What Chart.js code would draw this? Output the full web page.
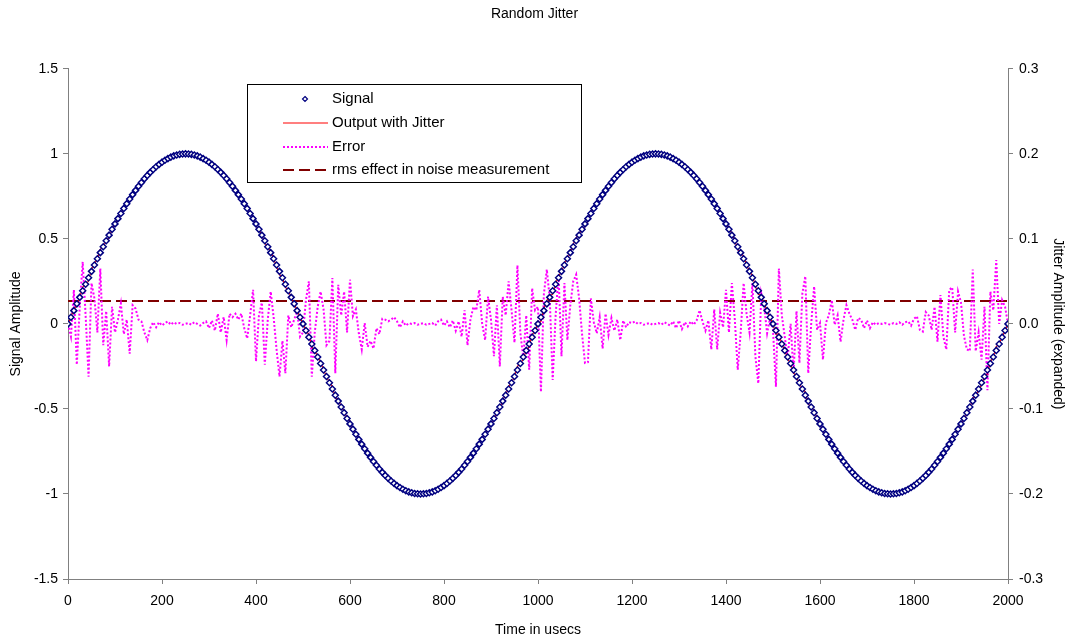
<!DOCTYPE html>
<html><head><meta charset="utf-8">
<script src="https://cdn.jsdelivr.net/npm/chart.js@4/dist/chart.umd.min.js"></script>
<style>html,body{margin:0;padding:0;background:#fff;}canvas{display:block;}</style>
</head><body>
<canvas id="c" width="1069" height="639"></canvas>
<script>
const chartTitle = 'Random Jitter';
const xTitle = 'Time in usecs';
const yLeftTitle = 'Signal Amplitude';
const yRightTitle = 'Jitter Amplitude (expanded)';
const seriesNames = ['Signal', 'Output with Jitter', 'Error', 'rms effect in noise measurement'];
const timeStep = 6.25; // usec between samples
const xTicks = [0, 200, 400, 600, 800, 1000, 1200, 1400, 1600, 1800, 2000];
const leftTicks = [-1.5, -1, -0.5, 0, 0.5, 1, 1.5];
const rightTicks = [-0.3, -0.2, -0.1, 0, 0.1, 0.2, 0.3];

const signal = [
0,.039,.078,.118,.156,.195,.233,.271,.309,.346,.383,.419,.454,.489,.522,.556,.588,.619,.649,.679,.707,.734,.760,.785,.809,.831,.853,.873,.891,.908,.924,.938,.951,.962,.972,.981,.988,.993,.997,.999,1,
.999,.997,.993,.988,.981,.972,.962,.951,.938,.924,.908,.891,.873,.853,.831,.809,.785,.760,.734,.707,.679,.649,.619,.588,.556,.522,.489,.454,.419,.383,.346,.309,.271,.233,.195,.156,.118,.078,.039,0,
-.039,-.078,-.118,-.156,-.195,-.233,-.271,-.309,-.346,-.383,-.419,-.454,-.489,-.522,-.556,-.588,-.619,-.649,-.679,-.707,-.734,-.760,-.785,-.809,-.831,-.853,-.873,-.891,-.908,-.924,-.938,-.951,-.962,-.972,-.981,-.988,-.993,-.997,-.999,-1,
-.999,-.997,-.993,-.988,-.981,-.972,-.962,-.951,-.938,-.924,-.908,-.891,-.873,-.853,-.831,-.809,-.785,-.760,-.734,-.707,-.679,-.649,-.619,-.588,-.556,-.522,-.489,-.454,-.419,-.383,-.346,-.309,-.271,-.233,-.195,-.156,-.118,-.078,-.039,0,
.039,.078,.118,.156,.195,.233,.271,.309,.346,.383,.419,.454,.489,.522,.556,.588,.619,.649,.679,.707,.734,.760,.785,.809,.831,.853,.873,.891,.908,.924,.938,.951,.962,.972,.981,.988,.993,.997,.999,1,
.999,.997,.993,.988,.981,.972,.962,.951,.938,.924,.908,.891,.873,.853,.831,.809,.785,.760,.734,.707,.679,.649,.619,.588,.556,.522,.489,.454,.419,.383,.346,.309,.271,.233,.195,.156,.118,.078,.039,0,
-.039,-.078,-.118,-.156,-.195,-.233,-.271,-.309,-.346,-.383,-.419,-.454,-.489,-.522,-.556,-.588,-.619,-.649,-.679,-.707,-.734,-.760,-.785,-.809,-.831,-.853,-.873,-.891,-.908,-.924,-.938,-.951,-.962,-.972,-.981,-.988,-.993,-.997,-.999,-1,
-.999,-.997,-.993,-.988,-.981,-.972,-.962,-.951,-.938,-.924,-.908,-.891,-.873,-.853,-.831,-.809,-.785,-.760,-.734,-.707,-.679,-.649,-.619,-.588,-.556,-.522,-.489,-.454,-.419,-.383,-.346,-.309,-.271,-.233,-.195,-.156,-.118,-.078,-.039,0
];

const outputWithJitter = [
0,.039,.090,.104,.156,.217,.233,.252,.323,.355,.383,.439,.454,.489,.507,.556,.588,.619,.649,.679,.707,.723,.760,.785,.809,.831,.853,.873,.891,.908,.924,.938,.951,.962,.972,.981,.988,.993,.997,.999,1,
.999,.997,.993,.988,.981,.972,.962,.951,.938,.924,.908,.891,.873,.853,.831,.809,.785,.760,.734,.707,.679,.649,.631,.575,.556,.522,.475,.454,.430,.383,.337,.290,.271,.216,.195,.156,.118,.078,.039,0,
-.039,-.063,-.137,-.156,-.195,-.222,-.271,-.309,-.346,-.367,-.436,-.440,-.489,-.511,-.556,-.572,-.619,-.649,-.679,-.716,-.734,-.760,-.785,-.809,-.831,-.853,-.873,-.891,-.908,-.924,-.938,-.951,-.962,-.972,-.981,-.988,-.993,-.997,-.999,-1,
-.999,-.997,-.993,-.988,-.981,-.972,-.962,-.951,-.938,-.924,-.908,-.891,-.873,-.853,-.831,-.809,-.785,-.760,-.734,-.695,-.679,-.649,-.609,-.588,-.567,-.522,-.504,-.444,-.419,-.368,-.346,-.309,-.250,-.233,-.207,-.156,-.134,-.065,-.039,0,
.015,.089,.137,.165,.175,.233,.288,.298,.360,.383,.419,.469,.506,.531,.556,.574,.605,.658,.679,.707,.734,.760,.785,.809,.831,.853,.873,.891,.908,.924,.938,.951,.962,.972,.981,.988,.993,.997,.999,1,
.999,.997,.993,.988,.981,.972,.962,.951,.938,.924,.908,.891,.873,.853,.831,.809,.785,.760,.725,.707,.670,.649,.619,.600,.556,.536,.489,.438,.419,.397,.346,.309,.285,.222,.174,.167,.118,.078,.039,0,
-.061,-.058,-.118,-.156,-.207,-.233,-.288,-.309,-.360,-.372,-.402,-.471,-.489,-.509,-.556,-.588,-.632,-.649,-.679,-.707,-.734,-.760,-.785,-.809,-.831,-.853,-.873,-.891,-.908,-.924,-.938,-.951,-.962,-.972,-.981,-.988,-.993,-.997,-.999,-1,
-.999,-.997,-.993,-.988,-.981,-.972,-.962,-.951,-.938,-.924,-.908,-.891,-.873,-.853,-.831,-.809,-.775,-.760,-.743,-.695,-.666,-.649,-.608,-.588,-.556,-.531,-.499,-.435,-.429,-.383,-.359,-.309,-.294,-.222,-.195,-.133,-.118,-.078,-.039,0
];

const error = [
0,-0.015,0.04,-0.048,0.02,0.073,0.01,-0.062,0.048,0.03,
-0.01,0.065,-0.025,0.015,-0.05,0.02,-0.01,0.005,0.024,-0.012,
0.005,-0.035,0.022,0.018,0.005,0.003,-0.01,-0.019,-0.005,0.002,
-0.004,0.002,-0.002,0.001,0.003,-0.001,0.002,0,0.001,-0.001,
0,0.001,-0.001,0.002,0,-0.002,0.001,0.003,-0.005,0.004,
-0.008,0.012,-0.01,0.008,-0.019,0.012,0.008,0.012,0.005,0.012,
-0.005,-0.017,0.01,0.04,-0.044,0.01,0.025,-0.048,0.005,0.038,
0.008,-0.03,-0.062,-0.02,-0.058,0.01,-0.004,0.005,0.015,-0.015,
-0.01,0.028,0.05,-0.062,-0.01,0.02,0.038,0.017,-0.025,-0.02,
0.054,-0.058,0.046,0.01,0.038,-0.01,0.052,0.009,0.017,-0.011,
-0.03,0.001,-0.027,-0.02,-0.029,-0.005,-0.012,0.006,0.005,0.003,
0.005,0.008,0.003,-0.004,0.003,-0.002,0.001,0,0.001,-0.001,
0,0.001,-0.001,0,0.001,-0.002,0.003,0.005,-0.002,0.003,
-0.004,0.004,-0.008,0.003,-0.015,0.016,-0.025,0.005,0.02,0.016,
0.04,0,-0.019,0.032,0.005,-0.038,0.022,-0.05,0.032,0.01,
0.05,0.016,-0.022,0.069,-0.011,-0.04,0.01,-0.054,0.042,0.016,
0.02,-0.08,0.035,0.064,0.03,-0.066,0.01,0.058,-0.038,0.048,
-0.019,0.022,0.05,0.058,0.03,-0.012,-0.046,-0.045,0.03,0.002,
-0.011,0.008,-0.029,0.012,-0.013,0.007,-0.008,0.005,-0.019,0.004,
-0.004,0.002,0.001,0.003,0,0.001,-0.001,0,0.001,-0.001,
0,0.001,-0.001,0.002,0,-0.002,0.003,-0.005,0.004,-0.006,
0.002,-0.003,0.003,-0.001,0.004,0.016,0.003,-0.008,0.004,-0.03,
0.017,-0.03,0.013,-0.004,0.04,-0.01,0.048,0.005,-0.054,-0.01,
0.048,0.012,-0.01,0.048,-0.038,-0.07,0.036,0.02,-0.011,0.007,
-0.007,-0.074,0.065,0.01,-0.015,-0.04,0,-0.058,0.015,-0.046,
0.036,0.056,-0.058,0,0.044,-0.007,0.001,-0.042,0.001,0.01,
0.028,-0.001,0.01,-0.021,0.005,0.022,0.012,0.005,-0.007,0.007,
0.005,-0.005,0.004,-0.005,0.002,-0.001,0.001,0,0.001,0,
-0.001,0.001,0,0.002,-0.001,0.002,0.003,-0.002,0.006,0.009,
-0.007,-0.009,0.014,0.01,-0.007,0.02,-0.021,0.034,-0.015,-0.03,
0.04,0.043,-0.01,0.038,0.025,-0.014,-0.03,-0.032,0.064,-0.032,
-0.01,-0.042,0.02,-0.078,0.038,0.016,0.075,0,0.028,0.02,
0
];

const rmsLevel = 0.027;

// ---- build library structures from the arrays above ----
const times = signal.map((_, i) => i * timeStep);
const toXY = arr => arr.map((v, i) => ({x: times[i], y: v}));
const rmsData = [{x: xTicks[0], y: rmsLevel}, {x: xTicks[xTicks.length - 1], y: rmsLevel}];

const FONT = '"Liberation Sans", Arial, Helvetica, sans-serif';
Chart.defaults.font.family = FONT;
Chart.defaults.color = '#000';

const boxLegend = {
  id: 'boxLegend',
  afterDatasetsDraw(chart) {
    const ctx = chart.ctx;
    const L = 247, T = 84, W = 334, H = 98;
    const rows = [99, 123, 147, 170];
    ctx.save();
    ctx.fillStyle = '#fff';
    ctx.fillRect(L, T, W, H);
    ctx.strokeStyle = '#000';
    ctx.lineWidth = 1;
    ctx.setLineDash([]);
    ctx.strokeRect(L + 0.5, T + 0.5, W, H);
    chart.data.datasets.forEach((ds, i) => {
      const y = rows[i];
      ctx.save();
      if (ds.showLine === false) {
        const r = 2.5, cx = 305;
        ctx.beginPath();
        ctx.moveTo(cx, y - r); ctx.lineTo(cx + r, y); ctx.lineTo(cx, y + r); ctx.lineTo(cx - r, y); ctx.closePath();
        ctx.fillStyle = '#fff'; ctx.fill();
        ctx.strokeStyle = ds.pointBorderColor; ctx.lineWidth = 1.2; ctx.stroke();
      } else {
        ctx.beginPath();
        ctx.setLineDash(ds.borderDash || []);
        ctx.strokeStyle = ds.borderColor;
        ctx.lineWidth = ds.borderWidth;
        ctx.moveTo(283, y); ctx.lineTo(328, y);
        ctx.stroke();
      }
      ctx.restore();
      ctx.fillStyle = '#000';
      ctx.font = '15px ' + FONT;
      ctx.textBaseline = 'middle';
      ctx.textAlign = 'left';
      ctx.fillText(ds.label, 332, y);
    });
    ctx.restore();
  }
};

new Chart(document.getElementById('c'), {
  type: 'line',
  data: {
    datasets: [
      {
        label: seriesNames[0], data: toXY(signal), yAxisID: 'y', showLine: false,
        pointStyle: 'rectRot', pointRadius: 3, pointBorderWidth: 1.5,
        pointBorderColor: '#000080', pointBackgroundColor: '#ffffff', borderColor: '#000080'
      },
      {
        label: seriesNames[1], data: toXY(outputWithJitter), yAxisID: 'y',
        borderColor: '#ff0000', borderWidth: 1.2, pointRadius: 0, tension: 0
      },
      {
        label: seriesNames[2], data: toXY(error), yAxisID: 'y2',
        borderColor: '#ff00ff', borderWidth: 2, borderDash: [2, 2], pointRadius: 0, tension: 0
      },
      {
        label: seriesNames[3], data: rmsData, yAxisID: 'y2',
        borderColor: '#800000', borderWidth: 2, borderDash: [11, 5], pointRadius: 0
      }
    ]
  },
  options: {
    responsive: false,
    animation: false,
    devicePixelRatio: 1,
    layout: {padding: 0},
    plugins: {
      legend: {display: false},
      tooltip: {enabled: false},
      title: {
        display: true, text: chartTitle, color: '#000',
        font: {size: 14, weight: 'normal', family: FONT},
        padding: {top: 6, bottom: 46}
      }
    },
    scales: {
      x: {
        type: 'linear', min: xTicks[0], max: xTicks[xTicks.length - 1],
        afterBuildTicks: s => { s.ticks = xTicks.map(v => ({value: v})); },
        ticks: {font: {size: 14}, color: '#000', padding: 9, maxRotation: 0, callback: v => String(v)},
        grid: {display: true, drawOnChartArea: false, drawTicks: true, tickLength: 5, color: '#808080'},
        border: {display: true, color: '#808080', width: 1},
        title: {display: true, text: xTitle, font: {size: 14}, color: '#000', padding: {top: 0, bottom: 0}},
        afterFit: s => { s.height = 60; }
      },
      y: {
        type: 'linear', position: 'left', min: leftTicks[0], max: leftTicks[leftTicks.length - 1],
        afterBuildTicks: s => { s.ticks = leftTicks.map(v => ({value: v})); },
        ticks: {font: {size: 14}, color: '#000', padding: 5, callback: v => String(v)},
        grid: {display: true, drawOnChartArea: false, drawTicks: true, tickLength: 5, color: '#808080'},
        border: {display: true, color: '#808080', width: 1},
        title: {display: true, text: yLeftTitle, font: {size: 14}, color: '#000', padding: {top: 8, bottom: 0}},
        afterFit: s => { s.width = 68; }
      },
      y2: {
        type: 'linear', position: 'right', min: rightTicks[0], max: rightTicks[rightTicks.length - 1],
        afterBuildTicks: s => { s.ticks = rightTicks.map(v => ({value: v})); },
        ticks: {font: {size: 14}, color: '#000', padding: 6, callback: v => (Math.abs(v) < 1e-9 ? 0 : v).toFixed(1)},
        grid: {display: true, drawOnChartArea: false, drawTicks: true, tickLength: 5, color: '#808080'},
        border: {display: true, color: '#808080', width: 1},
        title: {display: true, text: yRightTitle, font: {size: 14}, color: '#000', padding: {top: 3, bottom: 0}},
        afterFit: s => { s.width = 61; }
      }
    }
  },
  plugins: [boxLegend]
});
</script>
</body></html>
